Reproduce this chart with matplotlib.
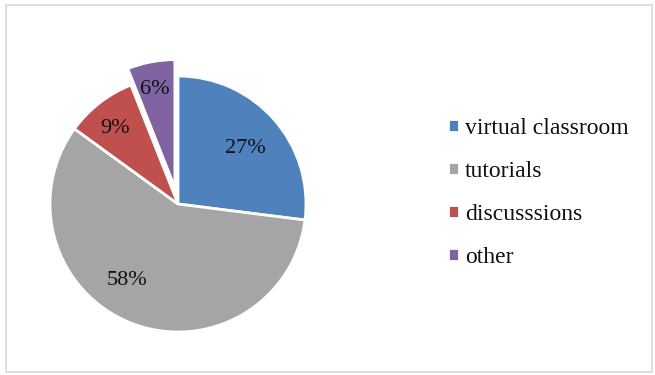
import numpy as np
import matplotlib
matplotlib.use('Agg')
import matplotlib.pyplot as plt
from matplotlib.patches import Rectangle

plt.rcParams['font.family'] = ['Liberation Serif', 'DejaVu Serif']

categories = ['virtual classroom', 'tutorials', 'discusssions', 'other']
shares = [27, 58, 9, 6]
colors = ['#4F81BD', '#A5A5A5', '#C0504D', '#8064A2']
explode = [0, 0, 0, 0.13]

fig = plt.figure(figsize=(6.55, 3.75), dpi=100)

# thin grey frame round the chart area
fig.patches.append(Rectangle((6/655, 3/375), 646/655, 367/375, transform=fig.transFigure,
                             fill=False, edgecolor='#d9d9d9', linewidth=1.2))

cx, cy, r = 178, 204, 128
ax = fig.add_axes([(cx - r)/655, (375 - cy - r)/375, 2*r/655, 2*r/375])
wedges, texts, autotexts = ax.pie(shares, colors=colors, explode=explode, startangle=90,
                                  counterclock=False, autopct='%1.0f%%', pctdistance=0.72,
                                  wedgeprops=dict(edgecolor='white', linewidth=2),
                                  textprops=dict(fontsize=16, color='#111111'))
ax.set_xlim(-1, 1)
ax.set_ylim(-1, 1)
ax.set_aspect('auto')
for w in wedges:
    w.set_clip_on(False)

# small shifts of the percentage labels (angle offset in degrees, radius)
label_adjust = [(-2, 0.68), (-12, 0.72), (2, 0.77), (1, 0.78)]
for w, t, (da, rr) in zip(wedges, autotexts, label_adjust):
    ang = np.deg2rad((w.theta1 + w.theta2) / 2 + da)
    ox, oy = w.center
    t.set_position((ox + rr * np.cos(ang), oy + rr * np.sin(ang)))

leg = fig.legend(wedges, categories, loc='center left', bbox_to_anchor=(0.652, 0.486),
                 frameon=False, fontsize=17, handlelength=0.45, handleheight=0.45,
                 handletextpad=0.25, labelspacing=0.93)
for t in leg.get_texts():
    t.set_color('#111111')

fig.savefig('out.png', dpi=100)
